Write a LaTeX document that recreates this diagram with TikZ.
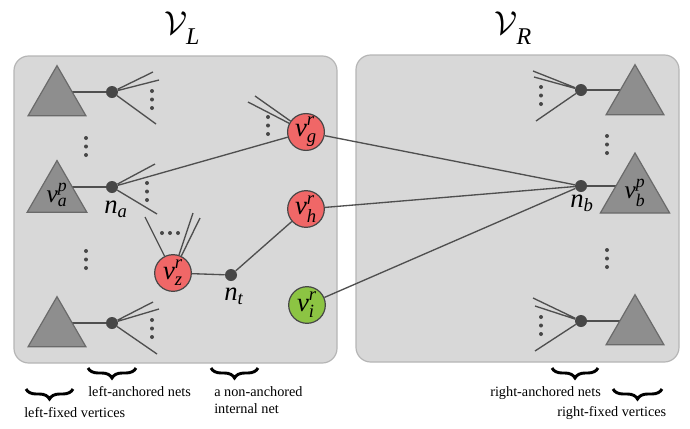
\documentclass[tikz,border=0pt]{standalone}
\usepackage{amsmath}
\usepackage{fontspec}
\setmainfont{Liberation Serif}
\usetikzlibrary{shapes.geometric,decorations.pathreplacing}
\definecolor{boxfill}{HTML}{D8D8D8}
\definecolor{boxline}{HTML}{B5B5B5}
\definecolor{trifill}{HTML}{8E8E8E}
\definecolor{triline}{HTML}{6A6A6A}
\definecolor{wire}{HTML}{4F4F4F}
\definecolor{dotc}{HTML}{474747}
\definecolor{redc}{HTML}{F06767}
\definecolor{greenc}{HTML}{8CC443}
\pgfdeclarelayer{back}\pgfdeclarelayer{wires}\pgfsetlayers{back,wires,main}
\newcommand\vlab[2]{$\textit{v}^{\textit{#1}}_{\textit{#2}}$}
\newcommand\bigV[1]{$\mathcal{V}$\kern-1pt\raisebox{-8pt}{\fontsize{18}{20}\selectfont\itshape #1}}
\begin{document}
\begin{tikzpicture}[x=0.75pt,y=-0.75pt,
  partbox/.style={draw=boxline,fill=boxfill,line width=0.9pt,rounded corners=11pt},
  tri/.style={regular polygon,regular polygon sides=3,minimum size=50pt,inner sep=0pt,
    draw=triline,fill=trifill,line width=0.9pt,font=\fontsize{19}{20}\selectfont},
  netdot/.style={circle,fill=dotc,minimum size=9pt,inner sep=0pt},
  cell/.style={circle,draw=dotc,line width=0.9pt,minimum size=27.5pt,inner sep=0pt,
    font=\fontsize{20}{22}\selectfont},
  redcell/.style={cell,fill=redc},
  greencell/.style={cell,fill=greenc},
  wireline/.style={draw=wire,line width=1pt},
  ell/.style={circle,fill=dotc,minimum size=3pt,inner sep=0pt},
  mlab/.style={font=\fontsize{20}{22}\selectfont,inner sep=0pt},
  title/.style={font=\fontsize{32}{34}\selectfont,inner sep=0pt},
  txt/.style={font=\fontsize{10.7}{13}\selectfont,inner sep=0pt,anchor=west,align=left},
  brc/.style={decorate,decoration={brace,mirror,amplitude=7.5pt},line width=2.2pt}]
\useasboundingbox (0,0) rectangle (690,429);
\begin{pgfonlayer}{back}
  \draw[partbox] (14,56) rectangle (337,363);
  \draw[partbox] (356,55) rectangle (679,362);
\end{pgfonlayer}
% titles
\node[title] (tL) at (182,28) {\bigV{L}};
\node[title] (tR) at (513,28) {\bigV{R}};
% triangles
\node[tri] (ta) at (57,99) {};
\node[tri] (tb) at (57,195) {\vlab{p}{a}};
\node[tri] (tc) at (57,330) {};
\node[tri] (td) at (635,98) {};
\node[tri] (te) at (635,193) {\vlab{p}{b}};
\node[tri] (tf) at (635,328) {};
% net dots
\node[netdot] (d1) at (112,92) {};
\node[netdot] (na) at (112,187) {};
\node[netdot] (d3) at (112,323) {};
\node[netdot] (nt) at (231,275) {};
\node[netdot] (d4) at (581,90) {};
\node[netdot] (nb) at (581,186) {};
\node[netdot] (d6) at (581,321) {};
% cells
\node[redcell] (vg) at (306,132) {\vlab{r}{g}};
\node[redcell] (vh) at (306,209) {\vlab{r}{h}};
\node[redcell] (vz) at (173,273) {\vlab{r}{z}};
\node[greencell] (vi) at (307,305) {\vlab{r}{i}};
% net labels
\node[mlab] (lna) at (116,209) {$\textit{n}_{\textit{a}}$};
\node[mlab] (lnt) at (234,296) {$\textit{n}_{\textit{t}}$};
\node[mlab] (lnb) at (582,203) {$\textit{n}_{\textit{b}}$};
% free ends
\coordinate (a1) at (153,72); \coordinate (a2) at (159,80); \coordinate (a3) at (156,124);
\coordinate (b1) at (155,164); \coordinate (b3) at (157,214);
\coordinate (c1) at (153,302); \coordinate (c2) at (159,309); \coordinate (c3) at (157,354);
\coordinate (g1) at (248,102); \coordinate (g2) at (255,96);
\coordinate (z1) at (145,217); \coordinate (z2) at (193,213); \coordinate (z3) at (200,218);
\coordinate (e1) at (533,71); \coordinate (e2) at (534,77); \coordinate (e3) at (536,121);
\coordinate (f1) at (533,298); \coordinate (f2) at (535,306); \coordinate (f3) at (535,351);
\begin{pgfonlayer}{wires}
  \draw[wireline] (d1) -- (ta.center |- d1);
  \draw[wireline] (na) -- (tb.center |- na);
  \draw[wireline] (d3) -- (tc.center |- d3);
  \draw[wireline] (d4) -- (td.center |- d4);
  \draw[wireline] (nb) -- (te.center |- nb);
  \draw[wireline] (d6) -- (tf.center |- d6);
  \draw[wireline] (d1) -- (a1) (d1) -- (a2) (d1) -- (a3);
  \draw[wireline] (na) -- (b1) (na) -- (b3) (na) -- (vg);
  \draw[wireline] (d3) -- (c1) (d3) -- (c2) (d3) -- (c3);
  \draw[wireline] (g1) -- (vg) (g2) -- (vg);
  \draw[wireline] (z1) -- (vz) (z2) -- (vz) (z3) -- (vz);
  \draw[wireline] (vz) -- (nt) (nt) -- (vh);
  \draw[wireline] (vg) -- (nb) (vh) -- (nb) (vi) -- (nb);
  \draw[wireline] (d4) -- (e1) (d4) -- (e2) (d4) -- (e3);
  \draw[wireline] (d6) -- (f1) (d6) -- (f2) (d6) -- (f3);
\end{pgfonlayer}
% ellipsis dots
\foreach \n/\x/\y in {p1/152/91, p2/147/183, p3/152/320, p4/86/138, p5/86/251,
  p6/268/117, p7/541/87, p8/541/317, p9/607/136, p10/607/250}{
  \node[ell] (\n a) at (\x,\y) {};
  \node[ell] (\n b) at (\x,\y+8.5) {};
  \node[ell] (\n c) at (\x,\y+17) {};
}
\node[ell] (h1) at (162,233) {};
\node[ell] (h2) at (170,233) {};
\node[ell] (h3) at (178,233) {};
% braces and texts
\coordinate (bl1) at (26,389); \coordinate (bl2) at (73,389);
\coordinate (bn1) at (88,368); \coordinate (bn2) at (136,368);
\coordinate (bt1) at (211,368); \coordinate (bt2) at (258,368);
\coordinate (br1) at (552,368); \coordinate (br2) at (598,368);
\coordinate (bf1) at (613,389); \coordinate (bf2) at (662,389);
\draw[brc] (bl1) -- (bl2);
\draw[brc] (bn1) -- (bn2);
\draw[brc] (bt1) -- (bt2);
\draw[brc] (br1) -- (br2);
\draw[brc] (bf1) -- (bf2);
\node[txt] (x1) at (24,413) {left-fixed vertices};
\node[txt] (x2) at (88,392) {left-anchored nets};
\node[txt] (x3) at (214,400) {a non-anchored\\internal net};
\node[txt] (x4) at (490,393) {right-anchored nets};
\node[txt] (x5) at (557,413) {right-fixed vertices};
\end{tikzpicture}
\end{document}
